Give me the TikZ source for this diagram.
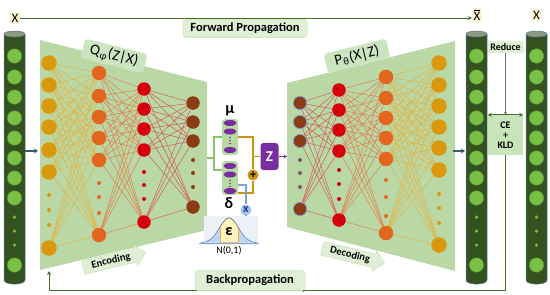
\documentclass[tikz,border=0pt]{standalone}
\usepackage{fontspec}
\setmainfont{Carlito}
\usetikzlibrary{arrows.meta,shapes.arrows,shapes.geometric,calc}
\pgfdeclarelayer{back}\pgfdeclarelayer{bg}
\pgfsetlayers{back,bg,main}
\definecolor{cyl}{RGB}{52,82,32}
\definecolor{cyltop}{RGB}{140,152,128}
\definecolor{cyledge}{RGB}{90,120,150}
\definecolor{ballg}{RGB}{122,192,70}
\definecolor{ballgd}{RGB}{85,150,45}
\definecolor{trap}{RGB}{185,216,166}
\definecolor{goldn}{RGB}{218,152,12}
\definecolor{orng}{RGB}{226,102,30}
\definecolor{redn}{RGB}{214,0,12}
\definecolor{brwn}{RGB}{140,60,20}
\definecolor{lgold}{RGB}{232,176,60}
\definecolor{lorng}{RGB}{228,120,70}
\definecolor{lred}{RGB}{214,80,80}
\definecolor{lbox}{RGB}{224,240,214}
\definecolor{lboxe}{RGB}{196,224,184}
\definecolor{cebox}{RGB}{200,228,185}
\definecolor{ylab}{RGB}{253,240,205}
\definecolor{fline}{RGB}{72,110,45}
\definecolor{purp}{RGB}{120,45,160}
\definecolor{pillc}{RGB}{183,220,160}
\definecolor{brkg}{RGB}{140,196,106}
\definecolor{gline}{RGB}{204,146,16}
\definecolor{bline}{RGB}{130,165,215}
\definecolor{bcirc}{RGB}{165,195,238}
\definecolor{dblue}{RGB}{30,60,130}
\definecolor{arrbg}{RGB}{60,90,110}
\definecolor{gbgc}{RGB}{236,241,247}
\definecolor{gtail}{RGB}{190,214,240}
\definecolor{gmid}{RGB}{255,244,190}

\newcommand\cylcol[2]{%
  \fill[cyl] (#1,34) -- (#1,280) .. controls (#1,285.5) and (#2,285.5) .. (#2,280) -- (#2,34) -- cycle;
  \draw[cyledge, line width=0.5pt] (#1,34) -- (#1,280) .. controls (#1,285.5) and (#2,285.5) .. (#2,280) -- (#2,34);
  \draw[cyledge, line width=0.5pt, fill=cyltop] ({(#1+#2)/2},34) ellipse [x radius={(#2-#1)/2}, y radius=3];
}
\newcommand\ballcol[2]{%
  \foreach \yy in {56,77,97,118,138,158,178,198,265} {\node[gball] (#1-\yy) at (#2,\yy) {};}
  \foreach \yy in {217,231,245} {\node[gdot] (#1-d\yy) at (#2,\yy) {};}
}
\newcommand\nncol[6]{%
  \foreach \yy in {#3} {\node[#5] (#1-\yy) at (#2,\yy) {};}
  \foreach \yy in {#4} {\node[#6] (#1-d\yy) at (#2,\yy) {};}
}
\newcommand\nnlinks[5]{%
  \begin{pgfonlayer}{bg}
  \foreach \aa in {#2}{\foreach \bb in {#4}{\draw[#5] (#1-\aa) -- (#3-\bb);}}
  \end{pgfonlayer}
}

\begin{document}
\begin{tikzpicture}[x=1pt,y=-1pt,
  gball/.style={circle, inner sep=0pt, minimum size=14.5pt, fill=ballg, draw=ballgd, line width=0.4pt},
  gdot/.style={circle, inner sep=0pt, minimum size=3.5pt, fill=ballg},
  nn/.style={circle, inner sep=0pt, minimum size=#1},
  ngold/.style={nn=15.5pt, fill=goldn},
  norng/.style={nn=14.5pt, fill=orng},
  nred/.style={nn=13.5pt, fill=redn},
  nbrwn/.style={nn=13.5pt, fill=brwn},
  nbrwnb/.style={nn=13.5pt, fill=brwn, draw=bline, line width=0.8pt},
  dgold/.style={nn=4pt, fill=goldn},
  dorng/.style={nn=4pt, fill=orng},
  dred/.style={nn=4pt, fill=redn},
  dbrwn/.style={nn=4pt, fill=brwn},
  dbrwnb/.style={nn=4pt, fill=brwn, draw=bline, line width=0.6pt},
  lk1/.style={draw=lgold, line width=0.45pt},
  lk2/.style={draw=lorng, line width=0.45pt},
  lk3/.style={draw=lred, line width=0.45pt},
  xlab/.style={rounded corners=2pt, fill=ylab, inner sep=1.5pt, font=\fontsize{13}{13}\selectfont},
  gbox/.style={rounded corners=3pt, fill=lbox, draw=lboxe, line width=0.5pt, inner sep=0pt},
  bigarr/.style={single arrow, fill=lbox, draw=lboxe, line width=0.5pt, inner sep=2pt,
     single arrow head extend=3.5pt, minimum height=64pt, font=\bfseries\fontsize{10.5}{10.5}\selectfont},
  feed/.style={draw=arrbg, line width=1.3pt, -{Stealth[length=4pt,width=5pt]}},
  fl/.style={draw=fline, line width=0.8pt},
  gl/.style={draw=brkg, line width=1.6pt},
  gol/.style={draw=gline, line width=1.6pt},
  bl/.style={draw=bline, line width=1.2pt},
  pel/.style={ellipse, fill=purp, inner sep=0pt, minimum width=13pt, minimum height=6pt},
  pdot/.style={circle, fill=purp, inner sep=0pt, minimum size=1.8pt}
]
\useasboundingbox (0,0) rectangle (550,295);

% trapezoids
\begin{pgfonlayer}{back}
\fill[trap] (40,40) -- (207,82) -- (207,230) -- (40,270) -- cycle;
\fill[trap] (287,83) -- (455,41) -- (455,271) -- (287,227) -- cycle;
\end{pgfonlayer}

% cylinders
\cylcol{4}{25}
\cylcol{466}{487}
\cylcol{526}{547}
\ballcol{xl}{14.5}
\ballcol{xb}{476.5}
\ballcol{xr}{536.5}

% encoder
\nncol{ea}{49}{63,85,106,127,150,172,248}{195,210,225}{ngold}{dgold}
\nncol{eb}{99}{73,96,117,138,160,235}{183,197,213}{norng}{dorng}
\nncol{ec}{144}{89,109,129,150,222}{172,185,199}{nred}{dred}
\nncol{ed}{193}{103,122,141,207}{160,173,187}{nbrwn}{dbrwn}
\nnlinks{ea}{63,85,106,127,150,172,248}{eb}{73,96,117,138,160,235}{lk1}
\nnlinks{eb}{73,96,117,138,160,235}{ec}{89,109,129,150,222}{lk2}
\nnlinks{ec}{89,109,129,150,222}{ed}{103,122,141,207}{lk3}

% decoder
\nncol{da}{300}{103,122,141,209}{160,173,187}{nbrwnb}{dbrwnb}
\nncol{db}{339}{90,110,130,151,220}{170,184,199}{nred}{dred}
\nncol{dc}{386}{77,98,118,138,159,233}{180,197,216}{norng}{dorng}
\nncol{dd}{439}{63,85,106,127,148,170,245}{194,208,223}{ngold}{dgold}
\nnlinks{da}{103,122,141,209}{db}{90,110,130,151,220}{lk3}
\nnlinks{db}{90,110,130,151,220}{dc}{77,98,118,138,159,233}{lk2}
\nnlinks{dc}{77,98,118,138,159,233}{dd}{63,85,106,127,148,170,245}{lk1}

% distribution labels
\node[gbox, draw=none, fill=lboxe!70!lbox, rotate=-14, minimum width=64pt, minimum height=20pt,
      font=\fontsize{15}{15}\selectfont] (qlab) at (114,56) {Q\kern0.5pt\textsubscript{φ}\kern0.5pt(Z|X)};
\node[gbox, draw=none, fill=lboxe!70!lbox, rotate=14, minimum width=64pt, minimum height=20pt,
      font=\fontsize{15}{15}\selectfont] (plab) at (357,56) {P\kern0.5pt\textsubscript{θ}\kern0.5pt(X|Z)};

% top labels and forward line
\node[xlab] (xl) at (15,18) {X};
\node[xlab] (xbar) at (477,15) {$\overline{\hbox{X}}$};
\node[xlab] (xr) at (536.5,15) {X};
\draw[fl, -{Stealth[length=4pt,width=4pt]}] (xl.east) -- (xl.east -| xbar.west);
\node[gbox, minimum width=124pt, minimum height=18pt, font=\bfseries\fontsize{12.5}{12.5}\selectfont]
   (fwd) at (245,28.5) {Forward Propagation};

% feed arrows
\coordinate (lcR) at (25,151);
\coordinate (encL) at (38,151);
\draw[feed] (lcR) -- (encL);
\coordinate (decR) at (453,151);
\coordinate (xbL) at (465,151);
\draw[feed] (decR) -- (xbL);

% latent part
\node[rounded corners=3pt, fill=pillc, minimum width=16pt, minimum height=36pt, inner sep=0pt] (mup) at (230,137) {};
\node[rounded corners=3pt, fill=pillc, minimum width=16pt, minimum height=34pt, inner sep=0pt] (sdp) at (230,178) {};
\node[pel] (m1) at (230,123) {};
\node[pel] (m2) at (230,131.5) {};
\node[pdot] (m3) at (230,137.5) {};
\node[pdot] (m4) at (230,140.5) {};
\node[pdot] (m5) at (230,143.5) {};
\node[pel] (m6) at (230,150) {};
\node[pel] (s1) at (230,166) {};
\node[pel] (s2) at (230,174.5) {};
\node[pdot] (s3) at (230,180.5) {};
\node[pdot] (s4) at (230,183.5) {};
\node[pdot] (s5) at (230,186.5) {};
\node[pel] (s6) at (230,191) {};
\node[font=\bfseries\fontsize{16}{16}\selectfont] (mu) at (230,111) {μ};
\node[font=\bfseries\fontsize{16}{16}\selectfont] (dl) at (229,203) {δ};

\coordinate (encR) at (207,158);
\coordinate (b1) at (214,158);
\coordinate (b2) at (214,170);
\draw[gl] (encR) -- (b1);
\draw[gl] (mup.west) -| (b2) -- (b2 -| sdp.west);

\node[circle, fill=gline, inner sep=0pt, minimum size=11pt, font=\bfseries\fontsize{12}{12}\selectfont] (plus) at (253,175) {+};
\node[rounded corners=3pt, fill=purp, minimum width=18pt, minimum height=27pt, inner sep=0pt,
      text=white, font=\bfseries\fontsize{15}{15}\selectfont] (zb) at (269.5,156.5) {Z};
\draw[gol] (mup.east) -| (plus.north);
\draw[gol] ([yshift=2pt]sdp.south east) -| (plus.south);
\draw[gol] (plus.north |- zb.west) -- (zb.west);
\coordinate (decL) at (287,156.5);
\draw[draw=purp, line width=1.2pt, -{Stealth[length=3.5pt,width=4pt]}] (zb.east) -- (decL);

% epsilon / gaussian
\node[fill=gbgc, minimum width=54pt, minimum height=29pt, inner sep=0pt] (gbg) at (231,230) {};
\fill[gtail] plot[domain=201:257, samples=60] (\x, {243-25*exp(-((\x-229)/9.5)^2/2)}) -- cycle;
\begin{scope}
\clip (220,200) rectangle (238,244);
\fill[gmid, draw=lgold, line width=0.6pt] plot[domain=201:257, samples=60] (\x, {243-25*exp(-((\x-229)/9.5)^2/2)}) -- cycle;
\end{scope}
\draw[draw=lgold, line width=0.5pt] (220,243) -- (220,{243-25*exp(-((220-229)/9.5)^2/2)});
\draw[draw=lgold, line width=0.5pt] (238,243) -- (238,{243-25*exp(-((238-229)/9.5)^2/2)});
\draw[draw=bline!80!black, line width=0.6pt] plot[domain=201:257, samples=60] (\x, {243-25*exp(-((\x-229)/9.5)^2/2)});
\draw[draw=bline, line width=0.6pt] (199,243) -- (259,243);
\node[font=\bfseries\fontsize{16}{16}\selectfont] (eps) at (229,232) {ε};
\node[font=\fontsize{10}{10}\selectfont] (nlab) at (229,251) {N(0,1)};

\node[circle, fill=bcirc, inner sep=0pt, minimum size=11pt, text=dblue, font=\bfseries\fontsize{12}{12}\selectfont] (xc) at (246,210) {x};
\draw[bl] ([yshift=-7pt]sdp.east) -| (xc.north);
\draw[bl] (xc.south) -- (xc.south |- gbg.north);

% encoding / decoding arrows
\node[bigarr, rotate=13.5] (enca) at (111,261) {Encoding};
\node[bigarr, rotate=-13.5] (deca) at (350,255) {Decoding};

% right side: reduce / loss
\node[fill=lbox, minimum width=36pt, minimum height=12pt, inner sep=0pt,
      font=\bfseries\fontsize{10}{10}\selectfont] (red) at (505.5,47) {Reduce};
\node[fill=cebox, minimum width=35pt, minimum height=40pt, inner sep=0pt, align=center,
      font=\bfseries\fontsize{10}{10}\selectfont] (ce) at (505.5,135) {CE\\+\\KLD};
\draw[draw=gray!60!fline, line width=0.5pt, -{Stealth[length=3pt,width=3pt]}] (red.south) -- (ce.north);
\draw[fl, line width=1pt, {Stealth[length=4pt,width=4pt]}-{Stealth[length=4pt,width=4pt]}] (ce.north west) -- (ce.north east);

% backpropagation
\coordinate (bpmid) at (300,290);
\coordinate (encBL) at (49,271);
\draw[fl, -{Stealth[length=4pt,width=4pt]}] (ce.south) |- (bpmid);
\draw[fl, -{Stealth[length=4pt,width=4pt]}] (bpmid) -| (encBL);
\node[gbox, minimum width=110pt, minimum height=20pt, font=\bfseries\fontsize{12.5}{12.5}\selectfont]
   (bp) at (250,280.5) {Backpropagation};
\end{tikzpicture}
\end{document}
